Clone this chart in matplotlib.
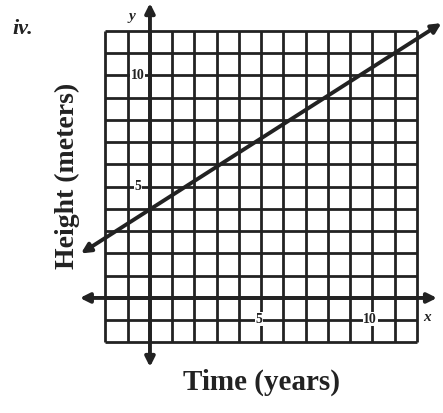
import numpy as np
import matplotlib
matplotlib.use('Agg')
import matplotlib.pyplot as plt

# grid and axis ranges (graph units)
grid_lo, grid_hi = -2, 12
x_axis_ends = [-3.15, 12.9]
y_axis_ends = [-3.1, 13.25]

# plotted line (height vs time)
line_x = [-3.1, 13.1]
line_y = [2.0, 12.35]

# tick labels
x_ticks = [5, 10]
y_ticks = [5, 10]

ink = '#222222'
serif = 'Liberation Serif'

fig = plt.figure(figsize=(4.43, 4.13), dpi=100)
ax = fig.add_axes([0, 0, 1, 1])
ax.set_xlim(-6.74, 13.17)
ax.set_ylim(-5.17, 13.39)
ax.axis('off')

ticks = np.arange(grid_lo, grid_hi + 1)
ax.vlines(ticks, grid_lo, grid_hi, color=ink, lw=2.0)
ax.hlines(ticks, grid_lo, grid_hi, color=ink, lw=2.0)

# axes with arrows at both ends
arrow = dict(arrowstyle='<|-|>', color=ink, lw=2.8, mutation_scale=14, shrinkA=0, shrinkB=0)
ax.annotate('', xy=(x_axis_ends[1], 0), xytext=(x_axis_ends[0], 0), arrowprops=arrow)
ax.annotate('', xy=(0, y_axis_ends[1]), xytext=(0, y_axis_ends[0]), arrowprops=arrow)

# the line
ax.annotate('', xy=(line_x[1], line_y[1]), xytext=(line_x[0], line_y[0]), arrowprops=arrow)

lbl_box = dict(facecolor='white', edgecolor='none', pad=0.3)
for t in x_ticks:
    ax.text(t - 0.1, -0.95, str(t), ha='center', va='center', fontsize=10,
            family=serif, weight='bold', color=ink, bbox=lbl_box)
for t in y_ticks:
    ax.text(-0.55, t, str(t), ha='center', va='center', fontsize=10,
            family=serif, weight='bold', color=ink, bbox=lbl_box)

ax.text(-0.8, 12.65, 'y', ha='center', va='center', fontsize=11, style='italic',
        weight='bold', family=serif, color=ink)
ax.text(12.45, -0.9, 'x', ha='center', va='center', fontsize=11, style='italic',
        weight='bold', family=serif, color=ink)
ax.text(-6.2, 12.1, 'iv.', ha='left', va='center', fontsize=16, style='italic',
        weight='bold', family=serif, color=ink)

ax.text(-3.7, 5.5, 'Height (meters)', rotation=90, ha='center', va='center',
        fontsize=20, weight='bold', family=serif, color=ink)
ax.text(5.0, -3.77, 'Time (years)', ha='center', va='center',
        fontsize=21, weight='bold', family=serif, color=ink)

plt.savefig('out.png', dpi=100)
